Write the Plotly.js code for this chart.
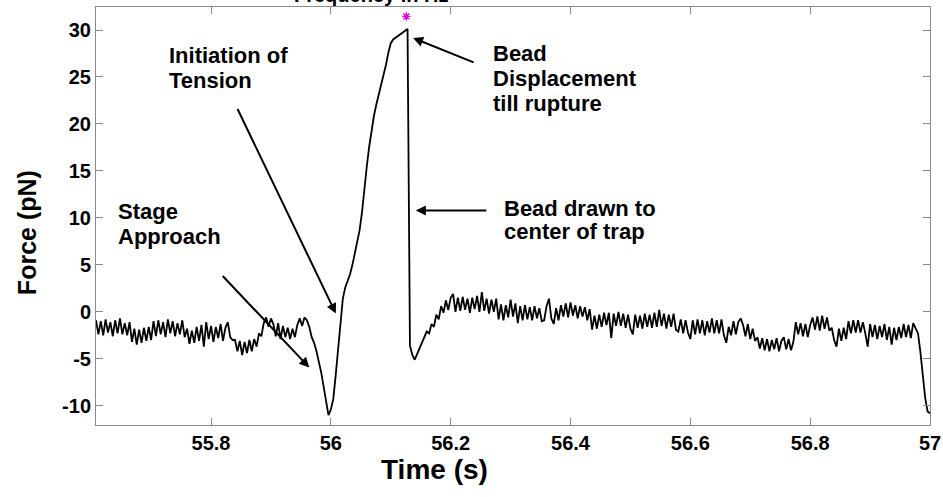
<!DOCTYPE html>
<html><head><meta charset="utf-8">
<script src="https://cdn.plot.ly/plotly-3.0.1.min.js"></script>
<style>html,body{margin:0;padding:0;background:#fff}</style>
</head><body><div id="chart" style="width:943px;height:497px"></div>
<script>
// sampled force trace (pN), first sample time and sampling step (s)
const startTime = 55.608;
const sampleStep = 0.004;
const force = [
 -0.9,-2.4,-1.0,-2.5,-0.8,-2.2,-1.1,-2.6,-0.9,-2.3,
 -0.7,-2.4,-1.2,-2.5,-1.1,-3.2,-1.8,-3.5,-1.9,-3.3,
 -1.7,-3.1,-1.6,-3.0,-1.0,-2.6,-0.9,-2.4,-1.1,-2.7,
 -0.8,-2.3,-1.0,-2.6,-1.2,-2.4,-0.9,-2.7,-1.8,-3.4,
 -2.0,-3.3,-1.6,-3.1,-1.4,-3.7,-1.1,-2.9,-1.5,-3.2,
 -1.6,-2.8,-1.3,-3.1,-1.7,-1.1,-2.7,-3.0,-3.0,-4.2,
 -3.1,-4.6,-3.2,-4.4,-3.0,-4.2,-2.9,-3.7,-2.3,-2.6,
 -1.2,-0.6,-1.6,-0.7,-1.3,-2.6,-1.2,-2.9,-1.5,-2.7,
 -1.7,-2.9,-1.8,-2.7,-1.4,-0.7,-1.5,-0.6,-0.9,-1.6,
 -2.7,-3.3,-4.2,-5.2,-6.5,-8.0,-9.6,-11.0,-10.4,-9.3,
 -6.8,-4.3,-1.2,1.4,2.6,3.3,4.0,5.0,6.2,7.3,
 8.7,10.6,13.4,15.5,17.6,19.4,20.9,22.1,23.1,24.1,
 25.0,26.3,27.6,28.6,29.0,29.2,29.4,29.6,29.8,29.9,
 30.1,-3.6,-4.6,-5.1,-4.5,-4.1,-3.4,-2.8,-2.1,-2.3,
 -1.3,-1.6,-0.3,-0.8,0.6,-0.1,1.2,0.2,1.5,1.9,
 0.0,1.5,0.1,1.6,0.2,1.4,-0.1,1.5,0.3,1.7,
 0.0,2.1,0.1,1.4,-0.2,1.3,0.0,1.4,-0.8,0.8,
 -0.9,0.7,-0.6,1.3,-0.5,0.9,-1.2,0.6,-0.9,0.7,
 -0.8,0.5,-0.9,0.6,-0.7,0.4,-1.0,-0.9,0.6,1.4,
 -0.7,-1.3,0.4,-0.9,0.7,-0.5,0.9,-0.6,1.0,-0.4,
 0.7,-0.7,0.6,-0.5,0.5,-0.9,0.3,-1.9,-0.4,-1.8,
 -0.3,-1.6,-0.1,-1.4,-0.1,-2.8,-0.2,-1.5,0.0,-1.5,
 -0.2,-1.7,-0.3,-1.8,-2.4,-0.3,-1.7,-0.4,-1.8,-0.2,
 -1.6,-0.3,-1.7,-0.1,-1.6,0.2,-1.5,-0.2,-1.8,-0.3,
 -1.6,-0.2,-1.9,-2.1,-0.8,-2.3,-0.9,-2.2,-2.9,-0.9,
 -2.4,-0.8,-2.3,-0.9,-2.5,-1.0,-2.2,-0.7,-2.3,-0.9,
 -2.3,-0.8,-2.5,-3.3,-1.6,-2.5,-1.0,-2.4,-1.1,-0.7,
 -1.4,-2.6,-1.3,-2.9,-1.8,-3.1,-2.7,-3.9,-2.8,-4.1,
 -2.9,-4.2,-3.0,-4.0,-2.8,-4.2,-3.1,-2.7,-4.0,-2.9,
 -4.1,-3.2,-1.1,-2.4,-1.2,-2.6,-1.3,-2.7,-1.4,-0.6,
 -1.9,-0.5,-2.0,-0.4,-1.8,-0.6,-2.0,-1.7,-3.0,-3.7,
 -1.8,-3.1,-1.7,-2.9,-1.0,-2.3,-0.9,-2.2,-0.9,-2.2,
 -1.1,-2.3,-3.7,-1.3,-2.7,-1.4,-2.9,-1.5,-2.7,-1.3,
 -3.0,-1.6,-3.5,-1.7,-3.0,-1.6,-2.8,-1.3,-2.7,-1.4,
 -2.8,-1.2,-1.7,-2.3,-4.3,-7.2,-9.2,-10.6,-10.8
];
const xTickVals = [55.8, 56, 56.2, 56.4, 56.6, 56.8, 57];
const xTickText = ['55.8', '56', '56.2', '56.4', '56.6', '56.8', '57'];
const yTickVals = [-10, -5, 0, 5, 10, 15, 20, 25, 30];
const yTickText = ['-10', '-5', '0', '5', '10', '15', '20', '25', '30'];
const peakTime = [56.126];
const peakMark = [31.45];

const FONT = 'Liberation Sans, Arial, Helvetica, sans-serif';
const L = 96, R = 930, T = 7, B = 425.3;
const W = R - L, H = B - T;
const px = v => (v - L) / W;
const py = v => (B - v) / H;

const trace = {
  type: 'scatter', mode: 'lines',
  x0: startTime, dx: sampleStep, y: force,
  line: {color: '#000000', width: 1.8},
  hoverinfo: 'skip', showlegend: false
};
const star = {
  type: 'scatter', mode: 'markers',
  x: peakTime, y: peakMark,
  marker: {symbol: 'asterisk-open', size: 7, color: '#dd00dd', line: {color: '#dd00dd', width: 1.4}},
  showlegend: false, hoverinfo: 'skip'
};

const tf = {family: FONT, size: 22, color: '#000', weight: 'bold'};
function label(text, left, cy) {
  return {text: text, xref: 'paper', yref: 'paper', x: px(left), y: py(cy),
    xanchor: 'left', yanchor: 'middle', showarrow: false, font: tf, borderpad: 0};
}
function arrow(x, y, ax, ay) {
  return {text: '', xref: 'x', yref: 'y', x: x, y: y, ax: ax, ay: ay,
    showarrow: true, arrowhead: 2, arrowsize: 1, arrowwidth: 2, arrowcolor: '#000', standoff: 0};
}

const annotations = [
  label('Initiation of', 168, 55.5),
  label('Tension', 168, 80.5),
  label('Stage', 117, 211.5),
  label('Approach', 117, 236.5),
  label('Bead', 491.7, 54),
  label('Displacement', 491.7, 79),
  label('till rupture', 491.7, 104),
  label('Bead drawn to', 503, 209),
  label('center of trap', 503, 232),
  arrow(55.964, -5.93, -88, -93),
  arrow(56.0083, -0.18, -99, -206),
  arrow(56.1373, 29.15, 62, 25),
  arrow(56.1418, 10.78, 72, 0),
  {text: 'Frequency in Hz', xref: 'paper', yref: 'paper', x: px(371), y: py(-5),
   xanchor: 'center', yanchor: 'middle', showarrow: false,
   font: {family: FONT, size: 20, color: '#000', weight: 'bold'}},
  {text: 'Time (s)', xref: 'paper', yref: 'paper', x: px(434), y: py(469.6),
   xanchor: 'center', yanchor: 'middle', showarrow: false,
   font: {family: FONT, size: 28, color: '#000', weight: 'bold'}},
  {text: 'Force (pN)', xref: 'paper', yref: 'paper', x: px(27), y: py(233.3),
   xanchor: 'center', yanchor: 'middle', showarrow: false, textangle: -90,
   font: {family: FONT, size: 25, color: '#000', weight: 'bold'}}
];

const axisCommon = {
  showline: true, linecolor: '#8a8a8a', linewidth: 1, mirror: 'ticks',
  ticks: 'inside', ticklen: 7, tickwidth: 1, tickcolor: '#8a8a8a',
  showgrid: false, zeroline: false, tickmode: 'array',
  tickfont: {family: FONT, size: 20, color: '#000', weight: 'bold'}
};

const layout = {
  width: 943, height: 497,
  margin: {l: L, r: 943 - R, t: T, b: 497 - B, pad: 0},
  paper_bgcolor: '#ffffff', plot_bgcolor: '#ffffff',
  showlegend: false,
  xaxis: Object.assign({}, axisCommon, {range: [55.608, 57.0], tickvals: xTickVals, ticktext: xTickText}),
  yaxis: Object.assign({}, axisCommon, {range: [-12.05, 32.45], tickvals: yTickVals, ticktext: yTickText}),
  annotations: annotations
};

Plotly.newPlot('chart', [trace, star], layout, {displayModeBar: false, staticPlot: true});
</script>
</body></html>
